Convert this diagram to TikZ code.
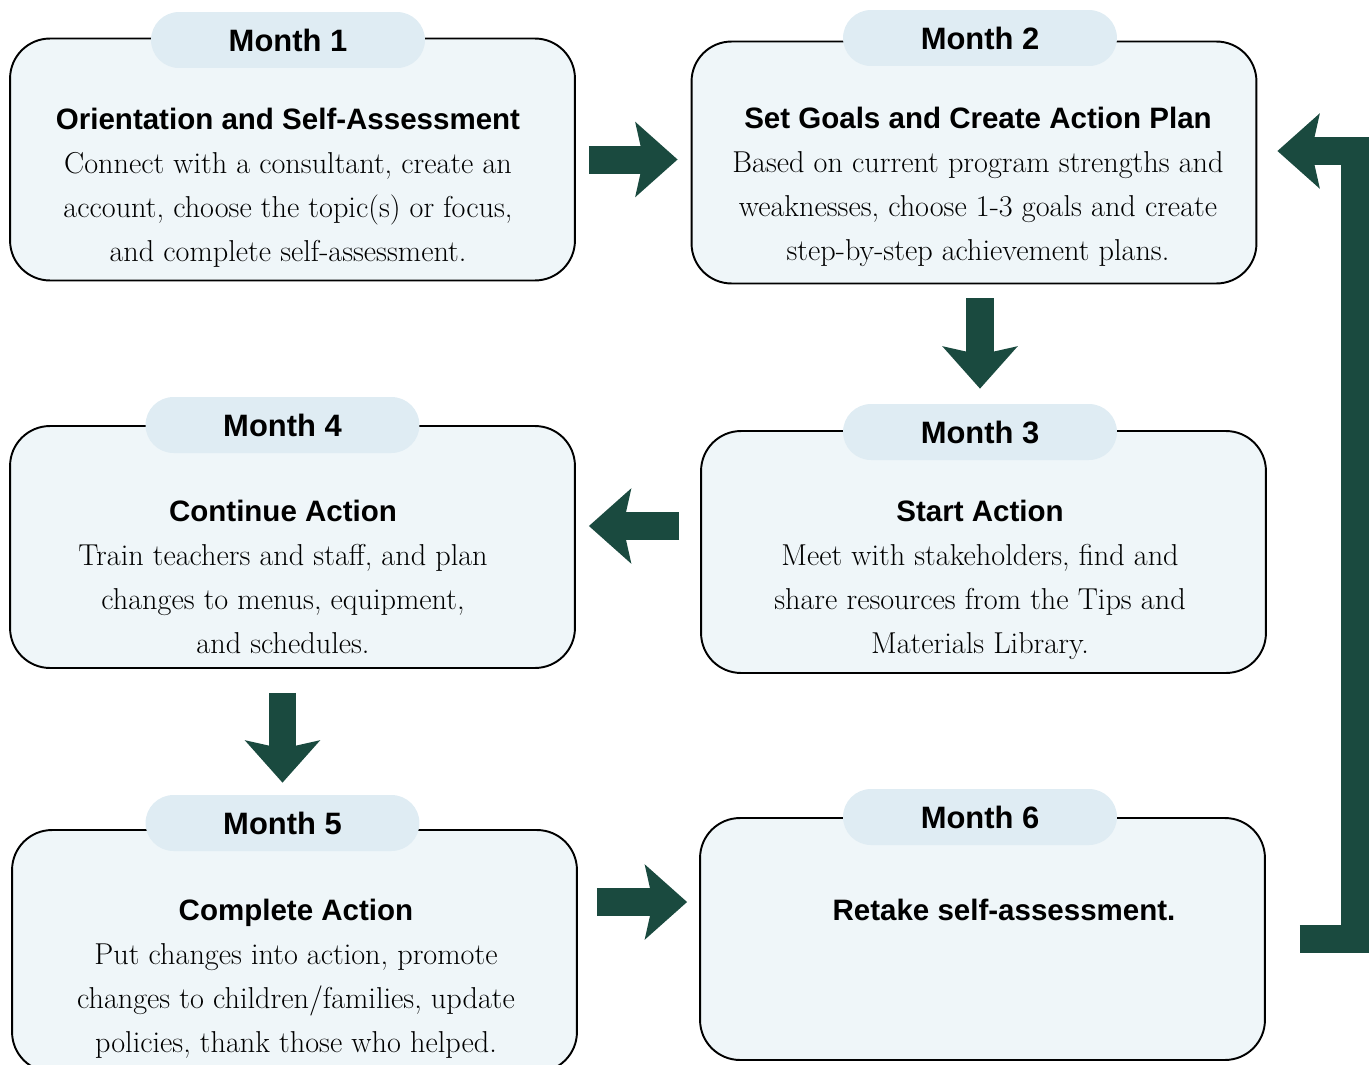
\documentclass[tikz,border=0pt]{standalone}
\usepackage{fontspec}
\usepackage{tikz}
\usetikzlibrary{arrows.meta}
\newfontfamily\headfont{Liberation Sans}
\definecolor{arrowgreen}{HTML}{1A4A3F}
\definecolor{boxfill}{HTML}{EFF6F9}
\definecolor{tagfill}{HTML}{DFECF3}
\newcommand{\steptitle}[1]{{\fontsize{16.8}{25}\headfont\bfseries #1}}
\tikzstyle{monthbox} = [rectangle, rounded corners=0.8cm, draw=black, line width=1.1pt, fill=boxfill, minimum width=11.3cm, minimum height=4.84cm, inner sep=0pt]
\tikzstyle{monthtag} = [rectangle, rounded corners=0.56cm, fill=tagfill, minimum width=5.48cm, minimum height=1.12cm, inner sep=0pt, font=\fontsize{17.6}{20}\headfont\bfseries]
\tikzstyle{steptext} = [anchor=north, align=center, inner sep=0pt, font=\fontsize{17.2}{25}\selectfont]
\tikzstyle{bigarrow} = [draw=arrowgreen, line width=0.56cm, line join=miter, -{Stealth[length=0.84cm, width=1.48cm, inset=0.16cm]}]

\begin{document}
\begin{tikzpicture}[x=0.02cm, y=-0.02cm]

        \useasboundingbox (0,0) rectangle (1370,1065);

        \node (m1) [monthbox] at (292.5,159.5) {};
        \node (m2) [monthbox] at (974,162.5) {};
        \node (m3) [monthbox] at (983.5,552) {};
        \node (m4) [monthbox] at (292.5,547) {};
        \node (m5) [monthbox] at (294.5,951) {};
        \node (m6) [monthbox] at (982.5,939) {};

        \node (t1) [monthtag] at (288,40) {Month 1};
        \node (t2) [monthtag] at (980,38) {Month 2};
        \node (t3) [monthtag] at (980,432) {Month 3};
        \node (t4) [monthtag] at (282.5,425) {Month 4};
        \node (t5) [monthtag] at (282.5,823) {Month 5};
        \node (t6) [monthtag] at (980,817) {Month 6};

        \node (m1txt) [steptext] at (288,108) {\steptitle{Orientation and Self-Assessment}\\ Connect with a consultant, create an\\ account, choose the topic(s) or focus,\\ and complete self-assessment.};
        \node (m2txt) [steptext] at (978,107) {\steptitle{Set Goals and Create Action Plan}\\ Based on current program strengths and\\ weaknesses, choose 1-3 goals and create\\ step-by-step achievement plans.};
        \node (m3txt) [steptext] at (980,500) {\steptitle{Start Action}\\ Meet with stakeholders, find and\\ share resources from the Tips and\\ Materials Library.};
        \node (m4txt) [steptext] at (283,500) {\steptitle{Continue Action}\\ Train teachers and staff, and plan\\ changes to menus, equipment,\\ and schedules.};
        \node (m5txt) [steptext] at (296,899) {\steptitle{Complete Action}\\ Put changes into action, promote\\ changes to children/families, update\\ policies, thank those who helped.};
        \node (m6txt) [steptext] at (1004,899) {\steptitle{Retake self-assessment.}};

        \coordinate (a3s) at ([yshift=0.52cm]m3.west);
        \coordinate (a5s) at ([yshift=0.98cm]m5.east);
        \coordinate (turn) at (1355,151);

        \draw[bigarrow, shorten <=0.26cm, shorten >=0.26cm] (m1.east) -- (m1.east -| m2.west);
        \draw[bigarrow, shorten <=0.28cm, shorten >=0.3cm] (m2.south -| t3.north) -- (t3.north);
        \draw[bigarrow, shorten <=0.42cm, shorten >=0.26cm] (a3s) -- (a3s -| m4.east);
        \draw[bigarrow, shorten <=0.48cm, shorten >=0.24cm] (m4.south -| t5.north) -- (t5.north);
        \draw[bigarrow, shorten <=0.38cm, shorten >=0.24cm] (a5s) -- (a5s -| m6.west);
        \draw[bigarrow, shorten <=0.68cm, shorten >=0.4cm] (m6.east) -| (turn) -- (m2.east |- turn);

    \end{tikzpicture}
\end{document}
